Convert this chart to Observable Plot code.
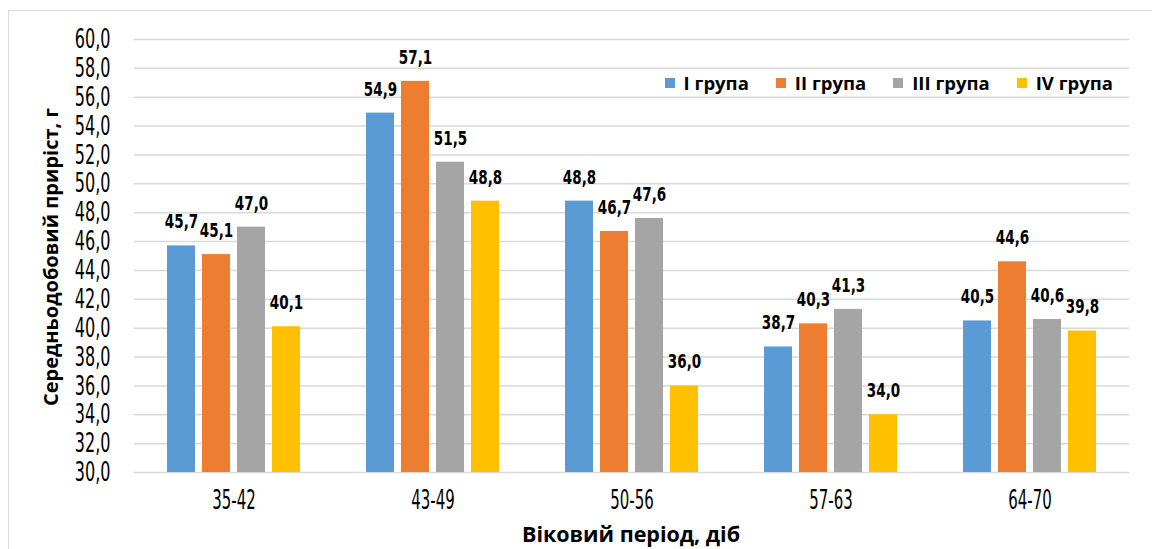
<!DOCTYPE html>
<html>
<head>
<meta charset="utf-8">
<script src="https://cdn.jsdelivr.net/npm/d3@7"></script>
<script src="https://cdn.jsdelivr.net/npm/@observablehq/plot@0.6"></script>
<style>
  body { margin: 0; background: #fff; }
  #wrap { position: relative; width: 1152px; height: 549px; overflow: hidden; background: #fff; }
  #border { position: absolute; left: 8px; top: 10px; width: 1200px; height: 600px; border: 1.5px solid #d9d9d9; box-sizing: border-box; }
  #chart { position: absolute; left: 0; top: 0; }
  #legend { position: absolute; right: 39px; top: 70px; display: flex; gap: 27px; align-items: center;
            font-family: "Open Sans", sans-serif; font-weight: 700; font-size: 18.5px; color: #000; }
  #legend .item { display: flex; align-items: center; }
  #legend .sw { width: 10px; height: 10px; margin-right: 9px; }
  #ytitle { position: absolute; left: 50px; top: 257px; transform: translate(-50%, -50%) rotate(-90deg);
            white-space: nowrap; font-family: "Open Sans", sans-serif; font-weight: 700; font-size: 20px; color: #000; }
  #xtitle { position: absolute; left: 631px; top: 533px; transform: translate(-50%, -50%);
            white-space: nowrap; font-family: "Open Sans", sans-serif; font-weight: 700; font-size: 21.5px; color: #000; }
</style>
</head>
<body>
<div id="wrap">
  <div id="border"></div>
  <div id="chart"></div>
  <div id="legend"></div>
  <div id="ytitle">Середньодобовий приріст, г</div>
  <div id="xtitle">Віковий період, діб</div>
</div>
<script>
// ---- data ----
const periods = ["35-42", "43-49", "50-56", "57-63", "64-70"];
const groups = ["I група", "II група", "III група", "IV група"];
const groupColors = ["#5B9BD5", "#ED7D31", "#A5A5A5", "#FFC000"];
const groupI   = [45.7, 54.9, 48.8, 38.7, 40.5];
const groupII  = [45.1, 57.1, 46.7, 40.3, 44.6];
const groupIII = [47.0, 51.5, 47.6, 41.3, 40.6];
const groupIV  = [40.1, 48.8, 36.0, 34.0, 39.8];
const yDomain = [30, 60];
const yTicks = [30, 32, 34, 36, 38, 40, 42, 44, 46, 48, 50, 52, 54, 56, 58, 60];

const series = [groupI, groupII, groupIII, groupIV];
const data = periods.flatMap((p, i) => groups.map((g, j) => ({period: p, group: g, value: series[j][i]})));
const fmt = v => v.toFixed(1).replace(".", ",");
const condensed = "'DejaVu Sans Condensed', 'DejaVu Sans', sans-serif";

const chart = Plot.plot({
  width: 1152,
  height: 549,
  marginTop: 39,
  marginBottom: 77,
  marginLeft: 132,
  marginRight: 22,
  style: {fontFamily: condensed, color: "#000", background: "transparent"},
  fx: {domain: periods, padding: 0, label: null},
  x: {domain: groups, paddingInner: 0.2, paddingOuter: 0.87, axis: null},
  y: {domain: yDomain, axis: null},
  color: {domain: groups, range: groupColors},
  marks: [
    Plot.gridY(yTicks, {stroke: "#d9d9d9", strokeWidth: 1.5, strokeOpacity: 1}),
    Plot.axisY(yTicks, {tickSize: 0, tickPadding: 24, tickFormat: fmt, label: null, fontSize: 27, fill: "#000"}),
    Plot.axisFx({anchor: "bottom", tickSize: 0, tickPadding: 18, label: null, fontSize: 26, fill: "#000"}),
    Plot.barY(data, {fx: "period", x: "group", y1: yDomain[0], y2: "value", fill: "group"}),
    Plot.text(data, {fx: "period", x: "group", y: "value", text: d => fmt(d.value), dy: -24,
      fontWeight: "bold", fontSize: 20, fill: "#000"})
  ]
});
document.getElementById("chart").appendChild(chart);

// narrow the condensed labels (glyph compression, like the original's condensed face)
function squeeze(selector, factor) {
  chart.querySelectorAll(selector).forEach(t => {
    const len = t.getComputedTextLength();
    t.setAttribute("textLength", (len * factor).toFixed(2));
    t.setAttribute("lengthAdjust", "spacingAndGlyphs");
  });
}
squeeze('g[aria-label="y-axis tick label"] text', 0.66);
squeeze('g[aria-label="fx-axis tick label"] text', 0.64);
squeeze('g[aria-label="text"] text', 0.75);

const legend = document.getElementById("legend");
groups.forEach((g, i) => {
  const item = document.createElement("div");
  item.className = "item";
  const sw = document.createElement("div");
  sw.className = "sw";
  sw.style.background = groupColors[i];
  const t = document.createElement("span");
  t.textContent = g;
  item.appendChild(sw);
  item.appendChild(t);
  legend.appendChild(item);
});
</script>
</body>
</html>
